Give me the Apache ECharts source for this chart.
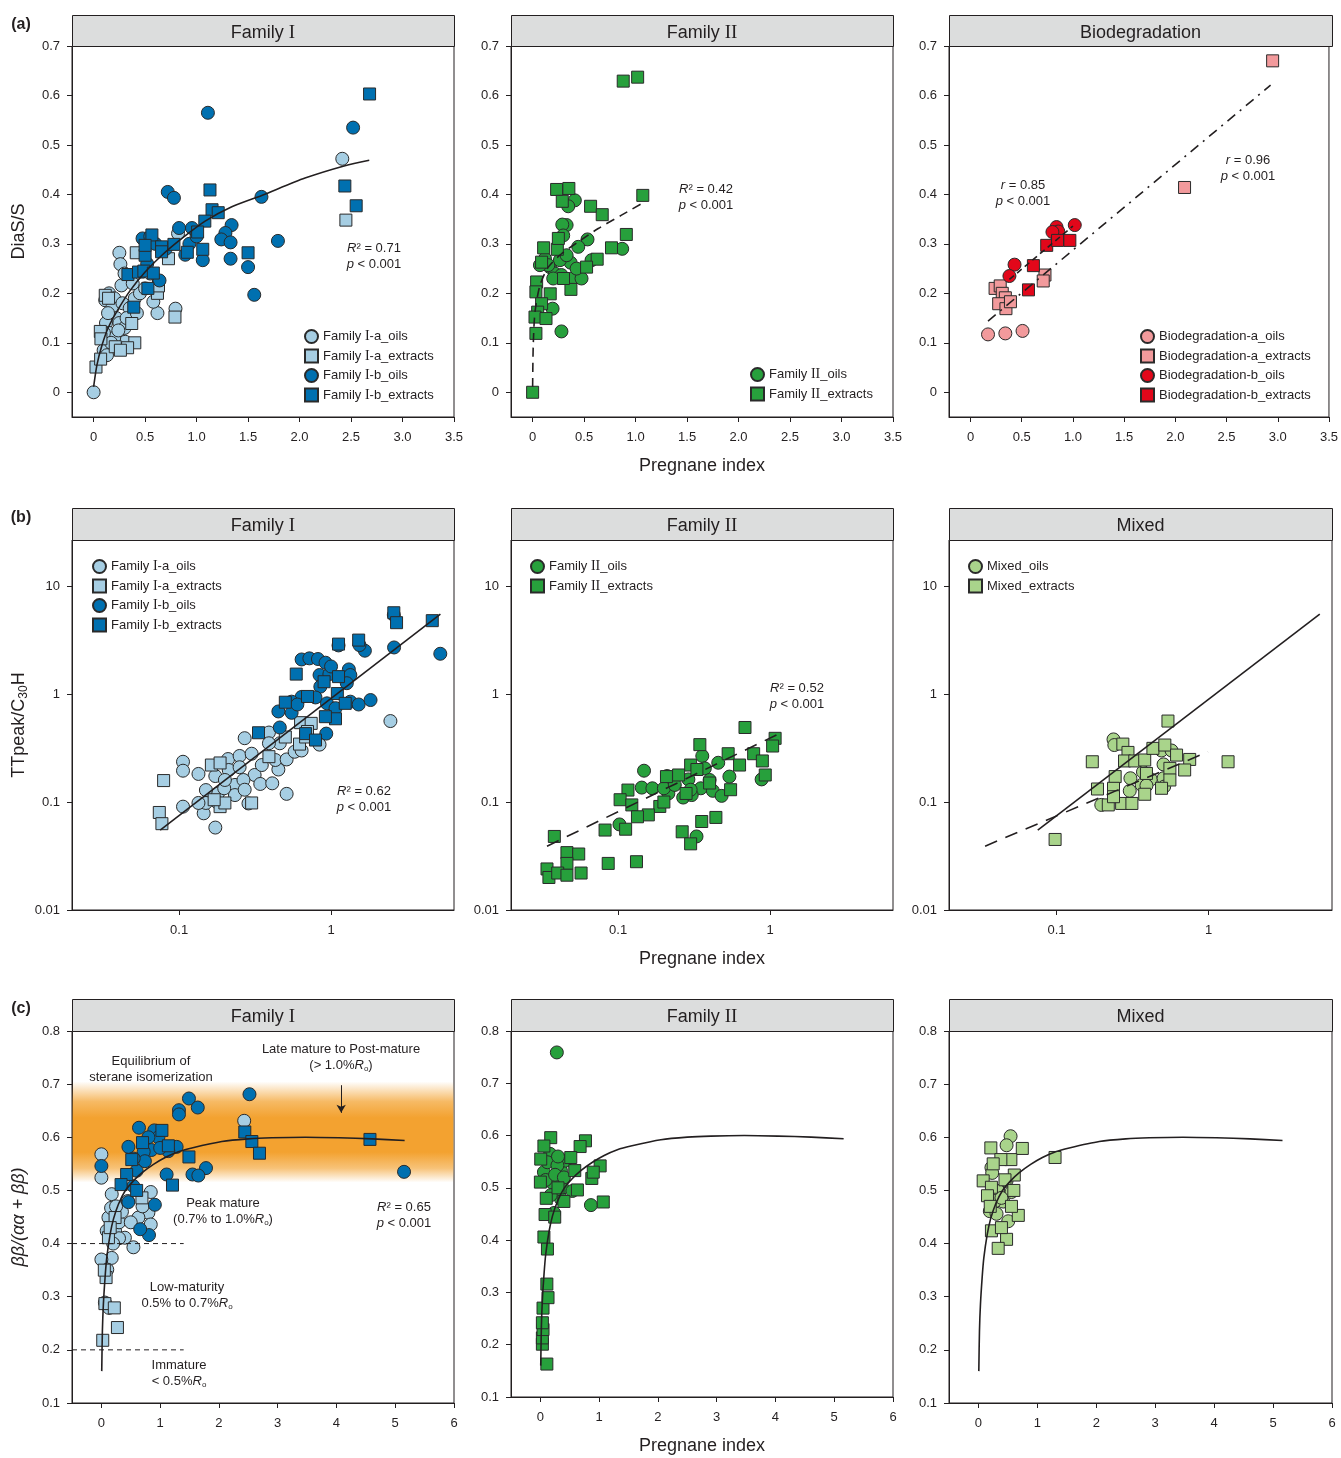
<!DOCTYPE html>
<html><head><meta charset="utf-8">
<script src="https://cdn.jsdelivr.net/npm/echarts@6/dist/echarts.min.js"></script>
<style>html,body{margin:0;padding:0;background:#fff}#c{width:1341px;height:1458px}</style>
</head><body><div id="c"></div>
<script>
// ---------------- tick values ----------------
const aXTicks = [0, 0.5, 1, 1.5, 2, 2.5, 3, 3.5];
const aYTicks = [0, 0.1, 0.2, 0.3, 0.4, 0.5, 0.6, 0.7];
const bXTicks = [0.1, 1];
const bYTicks = [0.01, 0.1, 1, 10];
const cXTicks = [0, 1, 2, 3, 4, 5, 6];
const cYTicks = [0.1, 0.2, 0.3, 0.4, 0.5, 0.6, 0.7, 0.8];

const headers = [['Family Ⅰ', 'Family Ⅱ', 'Biodegradation'], ['Family Ⅰ', 'Family Ⅱ', 'Mixed'], ['Family Ⅰ', 'Family Ⅱ', 'Mixed']];

// ---------------- (a) DiaS/S vs Pregnane index ----------------
const a1_Ia_oils = [[0,0],[2.415,0.472],[0.795,0.169],[0.62,0.16],[0.58,0.183],[0.25,0.282],[0.26,0.259],[0.82,0.321],[0.27,0.216],[0.113,0.186],[0.307,0.102],[0.097,0.085],[0.15,0.2],[0.2,0.19],[0.18,0.17],[0.22,0.15],[0.25,0.14],[0.3,0.13],[0.12,0.14],[0.15,0.12],[0.2,0.11],[0.1,0.12],[0.14,0.16],[0.28,0.18],[0.35,0.17],[0.32,0.15],[0.4,0.19],[0.45,0.2],[0.38,0.22],[0.5,0.21],[0.17,0.1],[0.24,0.125],[0.13,0.075],[0.42,0.16],[0.55,0.24],[0.3,0.24]];
const a1_Ia_extracts = [[2.45,0.348],[0.79,0.152],[0.414,0.282],[0.727,0.27],[0.62,0.2],[0.023,0.051],[0.068,0.067],[0.065,0.123],[0.071,0.108],[0.113,0.196],[0.21,0.092],[0.37,0.139],[0.145,0.19],[0.63,0.215],[0.4,0.1],[0.33,0.09],[0.26,0.085]];
const a1_Ib_oils = [[1.11,0.565],[2.52,0.535],[0.72,0.405],[0.78,0.393],[1.63,0.395],[1.79,0.306],[1.56,0.197],[1.5,0.253],[1.33,0.27],[1.06,0.267],[1.34,0.338],[1.28,0.322],[1.24,0.309],[1.33,0.303],[0.89,0.278],[0.83,0.332],[0.955,0.332],[0.475,0.311],[0.64,0.226],[0.55,0.315],[0.6,0.3],[0.93,0.3],[1.0,0.315],[0.7,0.29],[0.52,0.26]];
const a1_Ib_extracts = [[2.68,0.603],[1.13,0.409],[1.15,0.369],[1.21,0.363],[1.08,0.346],[1.01,0.324],[2.44,0.417],[2.55,0.377],[1.5,0.282],[1.06,0.289],[0.91,0.283],[0.78,0.299],[0.566,0.318],[0.66,0.294],[0.66,0.284],[0.5,0.277],[0.5,0.297],[0.333,0.238],[0.436,0.243],[0.488,0.245],[0.58,0.241],[0.527,0.21],[0.39,0.172]];
const a1_fit = [[0,0.011],[0.032,0.055],[0.081,0.095],[0.145,0.132],[0.242,0.169],[0.356,0.206],[0.5,0.243],[0.663,0.277],[0.857,0.311],[1.083,0.346],[1.342,0.375],[1.633,0.398],[2.053,0.433],[2.441,0.458],[2.677,0.469]];

const a2_II_oils = [[0.28,0.123],[0.194,0.169],[0.87,0.29],[0.41,0.388],[0.346,0.376],[0.33,0.338],[0.288,0.339],[0.297,0.317],[0.533,0.309],[0.443,0.294],[0.572,0.267],[0.369,0.262],[0.168,0.253],[0.217,0.24],[0.388,0.23],[0.475,0.23],[0.12,0.27],[0.265,0.267],[0.33,0.277],[0.152,0.257],[0.28,0.237],[0.427,0.25],[0.071,0.257],[0.2,0.23]];
const a2_II_extracts = [[0.88,0.629],[1.02,0.637],[0,0],[1.07,0.398],[0.233,0.41],[0.352,0.412],[0.288,0.386],[0.563,0.376],[0.676,0.359],[0.91,0.319],[0.766,0.292],[0.107,0.292],[0.24,0.289],[0.25,0.311],[0.627,0.269],[0.524,0.253],[0.039,0.223],[0.032,0.203],[0.171,0.199],[0.087,0.179],[0.049,0.162],[0.023,0.152],[0.13,0.149],[0.032,0.119],[0.372,0.208],[0.087,0.263],[0.3,0.23]];
const a2_fit = [[0,0.011],[0.006,0.095],[0.023,0.162],[0.071,0.216],[0.152,0.253],[0.281,0.28],[0.443,0.304],[0.637,0.331],[0.863,0.358],[1.09,0.385]];

const a3_Ba_oils = [[0.171,0.117],[0.34,0.119],[0.508,0.124]];
const a3_Ba_extracts = [[2.95,0.67],[2.09,0.414],[0.24,0.21],[0.29,0.215],[0.31,0.2],[0.34,0.191],[0.275,0.179],[0.346,0.169],[0.39,0.183],[0.727,0.237],[0.71,0.225]];
const a3_Bb_oils = [[1.018,0.338],[0.84,0.334],[0.857,0.325],[0.8,0.324],[0.43,0.258],[0.38,0.235]];
const a3_Bb_extracts = [[0.744,0.297],[0.85,0.307],[0.97,0.307],[0.614,0.256],[0.566,0.207]];
const a3_fit_all = [[0.171,0.144],[2.93,0.621]];
const a3_fit_b = [[0.38,0.228],[1.0,0.336]];

// ---------------- (b) TTpeak/C30H vs Pregnane index ----------------
const b1_Ia_oils = [[2.46,0.562],[0.84,0.34],[0.51,0.119],[0.39,0.44],[0.27,0.39],[0.106,0.236],[0.106,0.195],[0.106,0.0906],[0.173,0.058],[0.134,0.182],[0.145,0.0786],[0.15,0.098],[0.173,0.174],[0.21,0.25],[0.25,0.267],[0.3,0.28],[0.233,0.144],[0.18,0.12],[0.212,0.198],[0.286,0.097],[0.314,0.178],[0.342,0.147],[0.41,0.149],[0.45,0.2],[0.43,0.245],[0.51,0.248],[0.576,0.292],[0.64,0.3],[0.46,0.35],[0.18,0.098],[0.134,0.098],[0.233,0.116],[0.15,0.129],[0.198,0.134],[0.265,0.16],[0.39,0.35],[0.2,0.16],[0.25,0.21],[0.35,0.22],[0.27,0.13]];
const b1_Ia_extracts = [[0.079,0.158],[0.074,0.08],[0.077,0.063],[0.63,0.543],[0.74,0.535],[0.62,0.344],[0.68,0.4],[0.39,0.263],[0.163,0.22],[0.186,0.0906],[0.2,0.098],[0.3,0.098],[0.17,0.105],[0.186,0.23],[0.7,0.45],[0.5,0.4]];
const b1_Ib_oils = [[5.24,2.36],[2.59,5.4],[2.6,2.7],[1.12,2.82],[1.67,2.52],[1.54,2.84],[0.64,2.09],[0.72,2.14],[0.82,2.11],[0.92,1.95],[0.84,1.5],[0.975,1.53],[0.85,1.17],[1.31,1.69],[1.34,1.5],[1.27,1.26],[0.64,0.94],[0.79,0.93],[0.55,0.85],[0.45,0.69],[0.55,0.67],[0.46,0.49],[0.94,0.82],[1.07,0.74],[1.34,0.85],[1.52,0.8],[1.82,0.88],[0.93,0.43],[0.6,0.8],[1.0,1.8]];
const b1_Ib_extracts = [[4.64,4.78],[2.59,5.66],[2.7,4.58],[1.52,3.16],[0.59,1.53],[0.333,0.438],[1.07,0.59],[0.918,0.617],[1.12,1.45],[1.1,1.01],[0.5,0.84],[0.68,0.43],[0.79,0.375],[1.24,0.82],[1.12,2.9],[0.9,1.3],[0.7,0.95]];
const b1_fit = [[0.075,0.055],[5.25,5.5]];

const b2_II_oils = [[0.148,0.195],[0.102,0.062],[0.328,0.048],[0.88,0.162],[0.54,0.172],[0.358,0.267],[0.372,0.205],[0.456,0.231],[0.29,0.162],[0.21,0.174],[0.143,0.136],[0.168,0.134],[0.214,0.12],[0.268,0.11],[0.35,0.134],[0.42,0.127],[0.48,0.114],[0.2,0.134],[0.305,0.116],[0.236,0.144],[0.4,0.16],[0.3,0.13]];
const b2_II_extracts = [[0.684,0.49],[1.08,0.389],[1.04,0.33],[0.345,0.34],[0.53,0.28],[0.78,0.28],[0.89,0.24],[0.93,0.178],[0.63,0.22],[0.3,0.22],[0.208,0.172],[0.25,0.178],[0.116,0.129],[0.103,0.105],[0.123,0.094],[0.188,0.091],[0.158,0.076],[0.134,0.073],[0.355,0.066],[0.44,0.072],[0.264,0.053],[0.3,0.041],[0.082,0.055],[0.112,0.056],[0.038,0.048],[0.046,0.034],[0.055,0.033],[0.046,0.027],[0.057,0.022],[0.034,0.024],[0.035,0.02],[0.04,0.022],[0.046,0.021],[0.086,0.027],[0.132,0.028],[0.33,0.2],[0.4,0.15],[0.55,0.13],[0.28,0.12],[0.2,0.1]];
const b2_fit = [[0.034,0.039],[1.16,0.433]];

const b3_Mx_oils = [[0.237,0.38],[0.24,0.337],[0.49,0.3],[0.57,0.3],[0.505,0.223],[0.37,0.19],[0.306,0.166],[0.417,0.162],[0.505,0.166],[0.51,0.139],[0.303,0.127],[0.363,0.144],[0.197,0.094],[0.39,0.142]];
const b3_Mx_extracts = [[0.54,0.562],[1.34,0.236],[0.172,0.236],[0.186,0.132],[0.098,0.045],[0.75,0.248],[0.695,0.198],[0.273,0.344],[0.295,0.288],[0.28,0.24],[0.327,0.24],[0.38,0.245],[0.43,0.314],[0.515,0.337],[0.615,0.272],[0.556,0.205],[0.243,0.172],[0.237,0.134],[0.268,0.097],[0.313,0.097],[0.38,0.118],[0.219,0.094],[0.556,0.16],[0.49,0.134],[0.39,0.184],[0.237,0.112]];
const b3_fit_solid = [[0.0754,0.055],[5.36,5.5]];
const b3_fit_dash = [[0.034,0.039],[0.99,0.292]];

// ---------------- (c) bb/(aa+bb) vs Pregnane index ----------------
const c1_Ia_oils = [[2.43,0.631],[0,0.568],[0,0.524],[0.176,0.493],[0.84,0.497],[0.8,0.458],[0.84,0.436],[0.545,0.393],[0.176,0.373],[0,0.37],[0.1,0.351],[0.13,0.279],[0.06,0.289],[0.4,0.411],[0.12,0.449],[0.233,0.424],[0.09,0.424],[0.63,0.449],[0.165,0.467],[0.3,0.44],[0.35,0.46],[0.5,0.44],[0.25,0.47],[0.3,0.41],[0.2,0.4],[0.45,0.48],[0.7,0.47]];
const c1_Ia_extracts = [[0.023,0.218],[0.273,0.242],[0.06,0.287],[0.22,0.279],[0.08,0.336],[0.12,0.411],[0.69,0.486],[0.233,0.449],[0.05,0.35],[0.15,0.43]];
const c1_Ib_oils = [[2.52,0.681],[5.15,0.535],[1.49,0.673],[1.64,0.656],[1.32,0.651],[1.32,0.643],[1.78,0.542],[1.55,0.53],[1.65,0.528],[0.64,0.618],[0.9,0.613],[0.97,0.6],[1.28,0.582],[1.14,0.574],[0.85,0.576],[0.72,0.573],[0.46,0.582],[0.91,0.473],[0.81,0.416],[0.66,0.427],[0.46,0.478],[0.545,0.508],[0,0.546],[1.11,0.53],[0.6,0.537],[0.74,0.555],[0.55,0.56],[0.8,0.6],[1.0,0.58]];
const c1_Ib_extracts = [[4.57,0.596],[2.44,0.61],[2.56,0.592],[2.69,0.57],[1.49,0.563],[1.21,0.51],[1.03,0.613],[0.517,0.558],[0.43,0.53],[0.335,0.511],[1.14,0.584],[0.7,0.59],[0.6,0.5]];
const c2_II_oils = [[0.28,0.759],[0.86,0.467],[0.165,0.565],[0.35,0.533],[0.2,0.51],[0.375,0.5],[0.545,0.494],[0.35,0.479],[0.233,0.452],[0.06,0.53],[0.12,0.549],[0.43,0.552],[0.29,0.543],[0.176,0.486],[0.09,0.515],[0.25,0.525],[0.4,0.52],[0.3,0.56]];
const c2_II_extracts = [[0.11,0.163],[0.034,0.201],[0.034,0.213],[0.045,0.229],[0.034,0.242],[0.045,0.27],[0.13,0.29],[0.11,0.316],[0.12,0.383],[0.06,0.406],[0.08,0.449],[0.244,0.444],[1.07,0.473],[0.875,0.518],[1.017,0.542],[0.767,0.59],[0.676,0.579],[0.176,0.596],[0.06,0.58],[0.006,0.555],[0,0.511],[0.517,0.558],[0.585,0.533],[0.63,0.496],[0.4,0.474],[0.9,0.53],[0.1,0.48],[0.3,0.5]];
const c3_Mx_oils = [[0.545,0.602],[0.477,0.585],[0.22,0.543],[0.233,0.533],[0.477,0.518],[0.56,0.497],[0.335,0.499],[0.42,0.479],[0.28,0.48],[0.193,0.461],[0.307,0.456],[0.505,0.442],[0.39,0.486]];
const c3_Mx_extracts = [[1.3,0.562],[0.21,0.58],[0.744,0.579],[0.55,0.558],[0.38,0.558],[0.08,0.518],[0.608,0.529],[0.22,0.506],[0.676,0.453],[0.477,0.408],[0.335,0.391],[0.22,0.424],[0.39,0.43],[0.153,0.49],[0.56,0.47],[0.25,0.55],[0.45,0.52],[0.6,0.5],[0.2,0.47]];
const c_fit = [[0.006,0.16],[0.017,0.235],[0.034,0.286],[0.0625,0.336],[0.091,0.373],[0.148,0.417],[0.205,0.446],[0.29,0.474],[0.403,0.499],[0.545,0.518],[0.688,0.533],[0.886,0.549],[1.085,0.562],[1.31,0.573],[1.54,0.58],[2.05,0.592],[2.5,0.597],[2.9,0.599],[3.47,0.6],[4.04,0.599],[4.61,0.597],[5.16,0.594]];
const c1_bound_low = [[-0.5,0.2],[1.4,0.2]];
const c1_bound_peak = [[-0.5,0.4],[1.4,0.4]];
const c1_equilibrium = [0.515, 0.705];

// ---------------- styling ----------------
const FONT = '"Liberation Sans", Arial, sans-serif';
const SERIF = '"Liberation Serif", "Times New Roman", serif';
const INK = '#231f20';
const COL = { Ia: '#a6cee3', Ib: '#0070b0', II: '#27a03c', Mx: '#a9d48b', Ba: '#f29a9c', Bb: '#e2071a' };
const N = {
  Iao: 'Family Ⅰ-a_oils', Iae: 'Family Ⅰ-a_extracts', Ibo: 'Family Ⅰ-b_oils', Ibe: 'Family Ⅰ-b_extracts',
  IIo: 'Family Ⅱ_oils', IIe: 'Family Ⅱ_extracts',
  Bao: 'Biodegradation-a_oils', Bae: 'Biodegradation-a_extracts', Bbo: 'Biodegradation-b_oils', Bbe: 'Biodegradation-b_extracts',
  Mo: 'Mixed_oils', Me: 'Mixed_extracts'
};
// Roman numerals drawn with a serif glyph, as in the original
const roman = s => s.replace(/Ⅱ/g, '{r|II}').replace(/Ⅰ/g, '{r|I}');

const colLeft = [72, 511, 949];
const colW = [382, 382, 383];
const rowTop = [46, 540, 1031];
const rowH = [371, 370, 372];
const headTop = [15, 508, 999];

const fmtA = v => (v === 0 ? '0' : v.toFixed(1));
const rowAxes = [
  { x: { type: 'value', min: -0.21, max: 3.5, ticks: aXTicks, fmt: fmtA }, y: { type: 'value', min: -0.05, max: 0.7, ticks: aYTicks, fmt: fmtA } },
  { x: { type: 'log', min: 0.0197, max: 6.45, ticks: bXTicks, fmt: v => String(v) }, y: { type: 'log', min: 0.01, max: 26.7, ticks: bYTicks, fmt: v => String(v) } },
  { x: { type: 'value', min: -0.5, max: 6, ticks: cXTicks, fmt: v => String(v) }, y: { type: 'value', min: 0.1, max: 0.8, ticks: cYTicks, fmt: v => v.toFixed(1) } }
];
const yNames = ['DiaS/S', 'TTpeak/C{s|30}H', 'ββ/(αα + ββ)'];

const grids = [], xAxes = [], yAxes = [];
function mkAxis(gi, spec, isX, name) {
  const ax = {
    type: spec.type, gridIndex: gi, min: spec.min, max: spec.max,
    axisLine: { show: true, onZero: false, lineStyle: { color: INK, width: 1 } },
    axisTick: { show: true, inside: false, length: 5, customValues: spec.ticks, lineStyle: { color: INK, width: 1 } },
    axisLabel: { show: true, customValues: spec.ticks, formatter: spec.fmt, fontSize: 13, fontFamily: FONT, color: INK, margin: isX ? 14 : 12 },
    splitLine: { show: false }, minorTick: { show: false }, minorSplitLine: { show: false }
  };
  if (spec.type === 'log') ax.logBase = 10;
  if (name) {
    ax.name = name; ax.nameLocation = 'middle';
    ax.nameGap = isX ? 38 : 42; ax.nameRotate = isX ? 0 : 90;
    ax.nameTextStyle = { fontSize: 18, fontFamily: FONT, color: INK, lineHeight: 22,
      rich: { s: { fontSize: 12, lineHeight: 12, verticalAlign: 'bottom', fontFamily: FONT, color: INK } } };
  }
  return ax;
}
for (let r = 0; r < 3; r++) for (let c = 0; c < 3; c++) {
  const gi = r * 3 + c;
  grids.push({ left: colLeft[c], top: rowTop[r], width: colW[c], height: rowH[r], show: true, borderColor: INK, borderWidth: 1, backgroundColor: 'rgba(0,0,0,0)' });
  xAxes.push(mkAxis(gi, rowAxes[r].x, true, c === 1 ? 'Pregnane index' : null));
  const ya = mkAxis(gi, rowAxes[r].y, false, c === 0 ? yNames[r] : null);
  if (c === 0 && r === 2) ya.nameTextStyle.fontStyle = 'italic';
  yAxes.push(ya);
}

const series = [];
function sc(gi, name, data, color, symbol) {
  series.push({ type: 'scatter', name, data, xAxisIndex: gi, yAxisIndex: gi, symbol, symbolSize: symbol === 'circle' ? 13 : 12,
    itemStyle: { color, borderColor: '#2a2a2a', borderWidth: 1, opacity: 1 }, z: 3, silent: true, animation: false });
}
function ln(gi, data, type, extra) {
  series.push(Object.assign({ type: 'line', data, xAxisIndex: gi, yAxisIndex: gi, showSymbol: false, symbol: 'none', smooth: 0.25,
    lineStyle: { color: INK, width: 1.6, type }, z: 6, silent: true, animation: false }, extra || {}));
}

// band (equilibrium of sterane isomerization)
series.push({ type: 'line', data: [], xAxisIndex: 6, yAxisIndex: 6, z: 1, silent: true, animation: false,
  markArea: { silent: true, itemStyle: { color: new echarts.graphic.LinearGradient(0, 0, 0, 1, [
      { offset: 0, color: 'rgba(243,162,48,0)' }, { offset: 0.2, color: 'rgba(243,162,48,0.75)' },
      { offset: 0.36, color: 'rgba(243,162,48,1)' }, { offset: 0.7, color: 'rgba(243,162,48,1)' },
      { offset: 0.86, color: 'rgba(243,162,48,0.65)' }, { offset: 1, color: 'rgba(243,162,48,0)' }]) },
    data: [[{ xAxis: -0.49, yAxis: c1_equilibrium[1] }, { xAxis: 5.99, yAxis: c1_equilibrium[0] }]] } });

// row a
sc(0, N.Iao, a1_Ia_oils, COL.Ia, 'circle'); sc(0, N.Iae, a1_Ia_extracts, COL.Ia, 'rect');
sc(0, N.Ibo, a1_Ib_oils, COL.Ib, 'circle'); sc(0, N.Ibe, a1_Ib_extracts, COL.Ib, 'rect');
ln(0, a1_fit, 'solid');
sc(1, N.IIo, a2_II_oils, COL.II, 'circle'); sc(1, N.IIe, a2_II_extracts, COL.II, 'rect');
ln(1, a2_fit, [9, 6]);
sc(2, N.Bao, a3_Ba_oils, COL.Ba, 'circle'); sc(2, N.Bae, a3_Ba_extracts, COL.Ba, 'rect');
sc(2, N.Bbo, a3_Bb_oils, COL.Bb, 'circle'); sc(2, N.Bbe, a3_Bb_extracts, COL.Bb, 'rect');
ln(2, a3_fit_all, [10, 6, 2, 6], { smooth: false });
ln(2, a3_fit_b, [6, 4], { smooth: false });
// row b
sc(3, N.Iao, b1_Ia_oils, COL.Ia, 'circle'); sc(3, N.Iae, b1_Ia_extracts, COL.Ia, 'rect');
sc(3, N.Ibo, b1_Ib_oils, COL.Ib, 'circle'); sc(3, N.Ibe, b1_Ib_extracts, COL.Ib, 'rect');
ln(3, b1_fit, 'solid', { smooth: false });
sc(4, N.IIo, b2_II_oils, COL.II, 'circle'); sc(4, N.IIe, b2_II_extracts, COL.II, 'rect');
ln(4, b2_fit, [13, 9], { smooth: false });
sc(5, N.Mo, b3_Mx_oils, COL.Mx, 'circle'); sc(5, N.Me, b3_Mx_extracts, COL.Mx, 'rect');
ln(5, b3_fit_solid, 'solid', { smooth: false });
ln(5, b3_fit_dash, [13, 9], { smooth: false });
// row c
sc(6, N.Iao, c1_Ia_oils, COL.Ia, 'circle'); sc(6, N.Iae, c1_Ia_extracts, COL.Ia, 'rect');
sc(6, N.Ibo, c1_Ib_oils, COL.Ib, 'circle'); sc(6, N.Ibe, c1_Ib_extracts, COL.Ib, 'rect');
ln(6, c_fit, 'solid');
ln(6, c1_bound_low, [5, 4], { smooth: false, lineStyle: { color: INK, width: 1, type: [5, 4] } });
ln(6, c1_bound_peak, [5, 4], { smooth: false, lineStyle: { color: INK, width: 1, type: [5, 4] },
  markLine: { silent: true, symbol: ['none', 'arrow'], symbolSize: [7, 8], label: { show: false },
    lineStyle: { color: INK, width: 1, type: 'solid' },
    data: [[{ coord: [4.08, 0.698] }, { coord: [4.08, 0.646] }]] } });
sc(7, N.IIo, c2_II_oils, COL.II, 'circle'); sc(7, N.IIe, c2_II_extracts, COL.II, 'rect');
ln(7, c_fit, 'solid');
sc(8, N.Mo, c3_Mx_oils, COL.Mx, 'circle'); sc(8, N.Me, c3_Mx_extracts, COL.Mx, 'rect');
ln(8, c_fit, 'solid');

function lg(names, left, top) {
  return { data: names, left, top, orient: 'vertical', padding: 0, itemGap: 4.5, itemWidth: 13, itemHeight: 13,
    selectedMode: false, formatter: roman,
    textStyle: { fontSize: 13, fontFamily: FONT, color: INK, lineHeight: 15,
      rich: { r: { fontFamily: SERIF, fontSize: 14, color: INK, lineHeight: 15 } } } };
}
const legends = [
  lg([N.Iao, N.Iae, N.Ibo, N.Ibe], 304, 329),
  lg([N.IIo, N.IIe], 750, 367),
  lg([N.Bao, N.Bae, N.Bbo, N.Bbe], 1140, 329),
  lg([N.Iao, N.Iae, N.Ibo, N.Ibe], 92, 559),
  lg([N.IIo, N.IIe], 530, 559),
  lg([N.Mo, N.Me], 968, 559)
];

// graphic: headers, panel tags, annotations
const g = [];
for (let r = 0; r < 3; r++) for (let c = 0; c < 3; c++) {
  const h = rowTop[r] - headTop[r];
  g.push({ type: 'rect', shape: { x: colLeft[c] + 0.5, y: headTop[r] + 0.5, width: colW[c], height: h }, style: { fill: '#dcdddd', stroke: INK, lineWidth: 1 }, z: 10 });
  g.push({ type: 'text', x: colLeft[c] + colW[c] / 2, y: headTop[r] + h / 2 + 2.5, style: { text: roman(headers[r][c]), align: 'center', verticalAlign: 'middle', textAlign: 'center', textVerticalAlign: 'middle', fontSize: 18, fontFamily: FONT, fill: INK,
    rich: { r: { fontFamily: SERIF, fontSize: 19, fill: INK } } }, z: 11 });
}
function T(txt, cx, cy, opts) {
  g.push({ type: 'text', x: cx, y: cy, z: 12, style: Object.assign({ text: txt, align: 'center', verticalAlign: 'middle', textAlign: 'center', textVerticalAlign: 'middle',
    fontSize: 13, fontFamily: FONT, fill: INK, lineHeight: 16,
    rich: { i: { fontStyle: 'italic', fontSize: 13, fontFamily: FONT, fill: INK },
            o: { fontSize: 8, lineHeight: 8, verticalAlign: 'bottom', fontFamily: FONT, fill: INK } } }, opts || {}) });
}
T('(a)', 21, 25, { fontSize: 16, fontWeight: 'bold' });
T('(b)', 21, 518, { fontSize: 16, fontWeight: 'bold' });
T('(c)', 21, 1009, { fontSize: 16, fontWeight: 'bold' });

T('{i|R}² = 0.71\n{i|p} < 0.001', 374, 256);
T('{i|R}² = 0.42\n{i|p} < 0.001', 706, 197);
T('{i|r} = 0.85\n{i|p} < 0.001', 1023, 193);
T('{i|r} = 0.96\n{i|p} < 0.001', 1248, 168);
T('{i|R}² = 0.62\n{i|p} < 0.001', 364, 799);
T('{i|R}² = 0.52\n{i|p} < 0.001', 797, 696);
T('{i|R}² = 0.65\n{i|p} < 0.001', 404, 1215);
T('Equilibrium of\nsterane isomerization', 151, 1069);
T('Late mature to Post-mature\n(> 1.0%{i|R}{o|o})', 341, 1057);
T('Peak mature\n(0.7% to 1.0%{i|R}{o|o})', 223, 1211);
T('Low-maturity\n0.5% to 0.7%{i|R}{o|o}', 187, 1295);
T('Immature\n< 0.5%{i|R}{o|o}', 179, 1373);

const chart = echarts.init(document.getElementById('c'), null, { renderer: 'canvas' });
chart.setOption({
  animation: false, backgroundColor: '#fff',
  textStyle: { fontFamily: FONT },
  grid: grids, xAxis: xAxes, yAxis: yAxes, series, legend: legends, graphic: { elements: g }
});
</script></body></html>
